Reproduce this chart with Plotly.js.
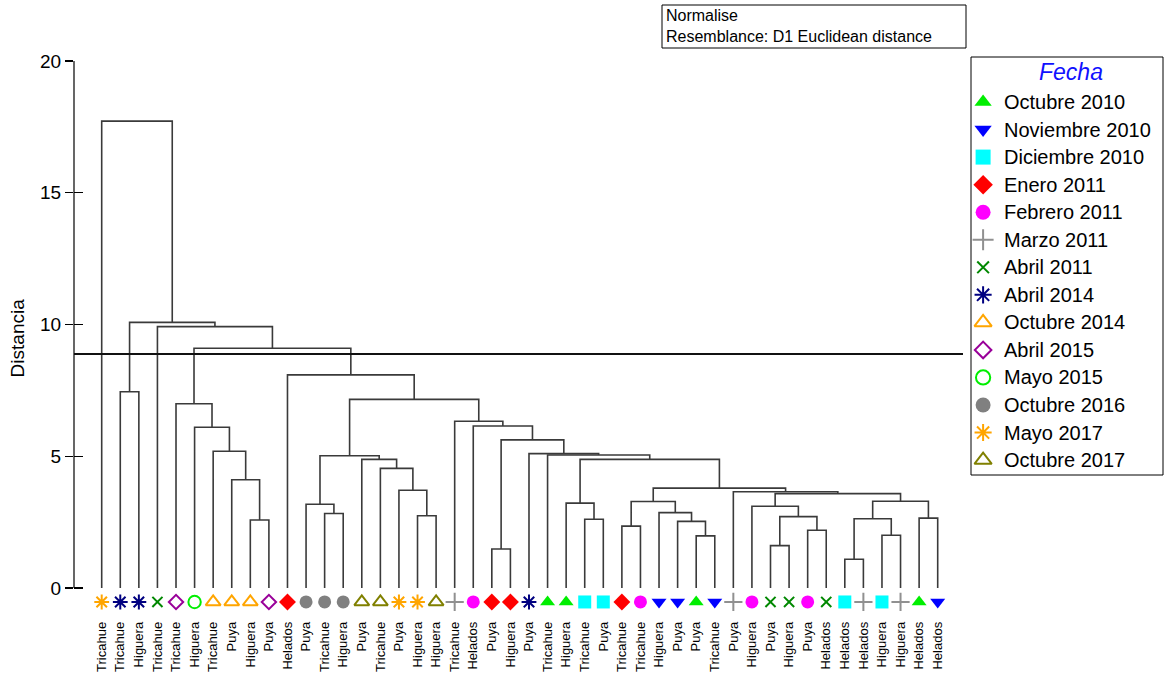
<!DOCTYPE html>
<html><head><meta charset="utf-8">
<script src="https://cdn.plot.ly/plotly-3.0.1.min.js"></script>
<style>html,body{margin:0;padding:0;background:#fff;} #chart{width:1164px;height:675px;}</style>
</head><body><div id="chart"></div>
<script>
// ---------- DATA ----------
const leafLabels = ["Tricahue","Tricahue","Higuera","Tricahue","Tricahue","Higuera","Tricahue","Puya","Higuera","Puya",
  "Helados","Puya","Tricahue","Higuera","Puya","Tricahue","Puya","Higuera","Higuera","Tricahue",
  "Helados","Puya","Higuera","Puya","Tricahue","Higuera","Tricahue","Puya","Tricahue","Tricahue",
  "Higuera","Puya","Puya","Tricahue","Puya","Higuera","Puya","Higuera","Puya","Helados",
  "Helados","Helados","Higuera","Higuera","Helados","Helados"];
const leafDates = ["Mayo 2017","Abril 2014","Abril 2014","Abril 2011","Abril 2015","Mayo 2015","Octubre 2014","Octubre 2014","Octubre 2014","Abril 2015",
  "Enero 2011","Octubre 2016","Octubre 2016","Octubre 2016","Octubre 2017","Octubre 2017","Mayo 2017","Mayo 2017","Octubre 2017","Marzo 2011",
  "Febrero 2011","Enero 2011","Enero 2011","Abril 2014","Octubre 2010","Octubre 2010","Diciembre 2010","Diciembre 2010","Enero 2011","Febrero 2011",
  "Noviembre 2010","Noviembre 2010","Octubre 2010","Noviembre 2010","Marzo 2011","Febrero 2011","Abril 2011","Abril 2011","Febrero 2011","Abril 2011",
  "Diciembre 2010","Marzo 2011","Diciembre 2010","Marzo 2011","Octubre 2010","Noviembre 2010"];
const dateNames = ["Octubre 2010","Noviembre 2010","Diciembre 2010","Enero 2011","Febrero 2011","Marzo 2011","Abril 2011",
  "Abril 2014","Octubre 2014","Abril 2015","Mayo 2015","Octubre 2016","Mayo 2017","Octubre 2017"];
// Linkage: positive = leaf number (1-based, left to right), negative = earlier merge number
const mergeLeft  = [9, 8, 7, 6, 5, 2, 13, 12, 18, 17, 16, 15, -8, 22, 27, 26, 29, 33, 32, 31, -17, 37, 39, -22, 36, 41, 43, -26, 45, -28, -25, 35, -21, -16, 25, 24, -14, 21, 20, -13, 11, -5, 4, -6, 1];
const mergeRight = [10, -1, -2, -3, -4, 3, 14, -7, 19, -9, -10, -11, -12, 23, 28, -15, 30, 34, -18, -19, -20, 38, 40, -23, -24, 42, 44, -27, 46, -29, -30, -31, -32, -33, -34, -35, -36, -37, -38, -39, -40, -41, -42, -43, -44];
const mergeHeight = [2.58, 4.11, 5.19, 6.10, 6.99, 7.45, 2.83, 3.18, 2.74, 3.71, 4.54, 4.88, 5.02, 1.48, 2.61, 3.22, 2.35, 1.98, 2.53, 2.86, 3.28, 1.61, 2.19, 2.71, 3.10, 1.09, 2.00, 2.63, 2.65, 3.29, 3.58, 3.65, 3.79, 4.88, 5.05, 5.10, 5.62, 6.15, 6.33, 7.16, 8.09, 9.10, 9.92, 10.08, 17.72];
const cutHeight = 8.88;
const yTickValues = [0, 5, 10, 15, 20];
const noteLines = ["Normalise", "Resemblance: D1 Euclidean distance"];

// ---------- STYLE ----------
const FONT = "Liberation Sans, Arial, sans-serif";
const dateStyle = {
  "Octubre 2010":   {color: "#00ee00", symbol: "triangle-up", k: 1},
  "Noviembre 2010": {color: "#0000ff", symbol: "triangle-down", k: 1},
  "Diciembre 2010": {color: "#00ffff", symbol: "square", k: 1},
  "Enero 2011":     {color: "#ff0000", symbol: "diamond", k: 1},
  "Febrero 2011":   {color: "#ff00ff", symbol: "circle", k: 1},
  "Marzo 2011":     {color: "#909090", symbol: "cross-thin-open", k: 1},
  "Abril 2011":     {color: "#008800", symbol: "x-thin-open", k: 0.78},
  "Abril 2014":     {color: "#000080", symbol: "asterisk-open", k: 0.95},
  "Octubre 2014":   {color: "#ffa500", symbol: "triangle-up-open", k: 1},
  "Abril 2015":     {color: "#990099", symbol: "diamond-open", k: 0.85},
  "Mayo 2015":      {color: "#00ee00", symbol: "circle-open", k: 0.95},
  "Octubre 2016":   {color: "#808080", symbol: "circle", k: 1},
  "Mayo 2017":      {color: "#ffa500", symbol: "asterisk-open", k: 0.95},
  "Octubre 2017":   {color: "#808000", symbol: "triangle-up-open", k: 1}
};
const isOpen = n => dateStyle[n].symbol.indexOf("open") >= 0;
function markerFor(name, size) {
  const s = dateStyle[name];
  return {symbol: s.symbol, color: s.color, size: size * s.k, opacity: 1,
          line: {color: s.color, width: isOpen(name) ? 2 : 0}};
}

// ---------- GEOMETRY (pixel layout) ----------
const W = 1164, H = 675;
const px = v => v / W, py = v => 1 - v / H;
const plotL = 74, plotR = 963, plotT = 61, plotB = 588;   // plotB = pixel of distance 0
const yTop = 20, yBottom = -1.05;                          // room below 0 for the leaf symbols
const unitY = (plotB - plotT) / yTop;
const domBottomPx = plotB - yBottom * unitY;
const leafFirstPx = 101.7, leafLastPx = 937.7;
const unit = (leafLastPx - leafFirstPx) / (leafLabels.length - 1);
const xMin = 1 - (leafFirstPx - plotL) / unit;
const xMax = xMin + (plotR - plotL) / unit;
const markerRowY = -0.53;

// ---------- BUILD DENDROGRAM ----------
const nodeX = [], nodeH = [];
function childPos(c) {
  if (c > 0) return [c, 0];
  return [nodeX[-c - 1], nodeH[-c - 1]];
}
const lx = [], ly = [];
for (let i = 0; i < mergeHeight.length; i++) {
  const [xl, hl] = childPos(mergeLeft[i]);
  const [xr, hr] = childPos(mergeRight[i]);
  const h = mergeHeight[i];
  nodeX.push((xl + xr) / 2); nodeH.push(h);
  lx.push(xl, xl, xr, xr, null);
  ly.push(hl, h, h, hr, null);
}

const traces = [{
  type: "scatter", mode: "lines", x: lx, y: ly,
  line: {color: "#3a3a3a", width: 1.6}, hoverinfo: "skip", showlegend: false
}];

// leaf markers, one trace per date
dateNames.forEach(name => {
  const xs = [];
  leafDates.forEach((d, i) => { if (d === name) xs.push(i + 1); });
  traces.push({
    type: "scatter", mode: "markers", name: name,
    x: xs, y: xs.map(() => markerRowY),
    marker: markerFor(name, 13), cliponaxis: false, showlegend: false, hoverinfo: "skip"
  });
});

// invisible trace for the inner-tick overlay axis
traces.push({type: "scatter", mode: "markers", x: [1], y: [0], yaxis: "y2",
  marker: {opacity: 0}, hoverinfo: "skip", showlegend: false});

// custom legend markers
traces.push({
  type: "scatter", mode: "markers", xaxis: "x3", yaxis: "y3",
  x: dateNames.map(() => 0.063), y: dateNames.map((_, i) => i),
  marker: {
    symbol: dateNames.map(n => dateStyle[n].symbol),
    color: dateNames.map(n => dateStyle[n].color),
    size: dateNames.map(n => 15 * dateStyle[n].k),
    opacity: 1,
    line: {color: dateNames.map(n => dateStyle[n].color),
           width: dateNames.map(n => isOpen(n) ? 2 : 0)}
  },
  cliponaxis: false, showlegend: false, hoverinfo: "skip"
});

const annotations = dateNames.map((n, i) => ({
  xref: "x3", yref: "y3", x: 0.162, y: i, xanchor: "left", yanchor: "middle",
  text: n, showarrow: false, font: {family: FONT, size: 20, color: "#000"}
}));
annotations.push({
  xref: "x3", yref: "y3", x: 0.52, y: -1.1, xanchor: "center", yanchor: "middle",
  text: "<i>Fecha</i>", showarrow: false, font: {family: FONT, size: 23, color: "#1010ff"}
});
annotations.push({
  xref: "paper", yref: "paper", x: px(664), y: py(5), xanchor: "left", yanchor: "top",
  text: noteLines.join("<br>"), align: "left", showarrow: false,
  font: {family: FONT, size: 16, color: "#000"}
});

const shapes = [
  {type: "line", xref: "paper", yref: "y", x0: px(plotL), x1: px(plotL), y0: 0, y1: yTop,
   line: {color: "#000", width: 1.2}},
  {type: "line", xref: "paper", yref: "y", x0: px(plotL), x1: px(plotR), y0: cutHeight, y1: cutHeight,
   line: {color: "#111", width: 2}},
  {type: "rect", xref: "paper", yref: "paper", x0: px(971), x1: px(1163), y0: py(475), y1: py(57),
   line: {color: "#000", width: 1}},
  {type: "rect", xref: "paper", yref: "paper", x0: px(662), x1: px(966), y0: py(48), y1: py(5),
   line: {color: "#000", width: 1}}
];

const layout = {
  width: W, height: H,
  margin: {l: 0, r: 0, t: 0, b: 0},
  paper_bgcolor: "#fff", plot_bgcolor: "#fff",
  font: {family: FONT, color: "#000"},
  showlegend: false,
  xaxis: {
    domain: [px(plotL), px(plotR)], range: [xMin, xMax],
    tickmode: "array", tickvals: leafLabels.map((_, i) => i + 1), ticktext: leafLabels,
    tickangle: -90, tickfont: {family: FONT, size: 13, color: "#000"},
    ticks: "outside", ticklen: Math.max(0, 613 - domBottomPx), tickcolor: "rgba(0,0,0,0)",
    showline: false, showgrid: false, zeroline: false, fixedrange: true
  },
  yaxis: {
    domain: [py(domBottomPx), py(plotT)], range: [yBottom, yTop],
    tickmode: "array", tickvals: yTickValues,
    ticks: "outside", ticklen: 8, tickwidth: 1.2, tickcolor: "#000",
    tickfont: {family: FONT, size: 19, color: "#000"},
    showline: false, showgrid: false, zeroline: false,
    title: {text: "Distancia", font: {family: FONT, size: 19, color: "#000"}, standoff: 10}
  },
  yaxis2: {
    overlaying: "y", side: "left", anchor: "x", range: [yBottom, yTop],
    tickmode: "array", tickvals: yTickValues,
    ticks: "inside", ticklen: 9, tickwidth: 1.2, tickcolor: "#000",
    showticklabels: false, showline: false, showgrid: false, zeroline: false
  },
  xaxis3: {domain: [px(971), px(1163)], range: [0, 1], visible: false, anchor: "y3"},
  yaxis3: {domain: [py(475), py(57)], range: [13.54, -1.633], visible: false, anchor: "x3"},
  annotations: annotations,
  shapes: shapes
};

Plotly.newPlot("chart", traces, layout, {staticPlot: true, displayModeBar: false});
</script>
</body></html>
